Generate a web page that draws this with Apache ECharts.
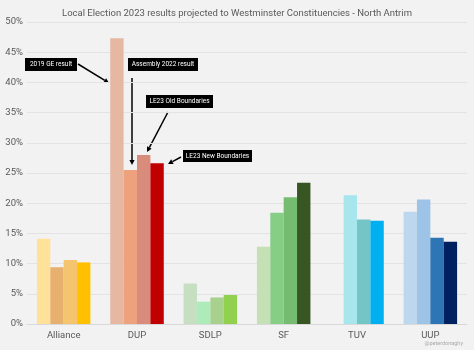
<!DOCTYPE html>
<html><head><meta charset="utf-8">
<script src="https://cdn.jsdelivr.net/npm/echarts@6/dist/echarts.min.js"></script>
<style>html,body{margin:0;padding:0;background:#f2f2f2}#c{width:474px;height:350px}</style>
</head><body><div id="c"></div>
<script>
const categories = ['Alliance','DUP','SDLP','SF','TUV','UUP'];
const seriesNames = ['2019 GE result','Assembly 2022 result','LE23 Old Boundaries','LE23 New Boundaries'];
const ge2019   = [14.1, 47.3, 6.7, 12.8, null, 18.6];
const ae2022   = [9.4, 25.5, 3.7, 18.4, 21.3, 20.6];
const le23Old  = [10.6, 28.0, 4.4, 21.0, 17.3, 14.3];
const le23New  = [10.2, 26.6, 4.8, 23.4, 17.1, 13.6];
const yTicks = [0,5,10,15,20,25,30,35,40,45,50];
const colors = [
  ['#FFE199','#E6B8A2','#C5DFC0','#C5E0B4',null,'#BDD7EE'],
  ['#E8B06E','#EDA17D','#AEEBBB','#86CE86','#A6E6EC','#9DC3E6'],
  ['#F5C46E','#DA8C7C','#A9D18E','#76BC70','#74C6C6','#2E75B6'],
  ['#FFC000','#C00000','#92D050','#375623','#00B0F0','#002060']
];
const allData = [ge2019, ae2022, le23Old, le23New];
const chart = echarts.init(document.getElementById('c'));
const font = 'Roboto, "Liberation Sans", sans-serif';
function box(x,y,w,h,text){
  return {type:'group',children:[
    {type:'rect',shape:{x:x,y:y,width:w,height:h},style:{fill:'#000'}},
    {type:'text',style:{x:x+w/2,y:y+h/2,text:text,fill:'#fff',font:'6.5px '+font,align:'center',verticalAlign:'middle'}}
  ]};
}
function arrow(x1,y1,x2,y2){
  const a=Math.atan2(y2-y1,x2-x1), L=5, W=2.6;
  const bx=x2-L*Math.cos(a), by=y2-L*Math.sin(a);
  const px=-Math.sin(a)*W, py=Math.cos(a)*W;
  return {type:'group',children:[
    {type:'line',shape:{x1:x1,y1:y1,x2:bx,y2:by},style:{stroke:'#000',lineWidth:1.5}},
    {type:'polygon',shape:{points:[[x2,y2],[bx+px,by+py],[bx-px,by-py]]},style:{fill:'#000'}}
  ]};
}
chart.setOption({
  backgroundColor:'#f2f2f2',
  animation:false,
  title:{text:'Local Election 2023 results projected to Westminster Constituencies - North Antrim',left:'center',top:4,
    textStyle:{fontSize:9.5,fontWeight:'normal',color:'#595959',fontFamily:font}},
  grid:{left:27,right:7,top:22,bottom:26},
  xAxis:{type:'category',data:categories,axisTick:{show:false},
    axisLine:{lineStyle:{color:'#d9d9d9'}},
    axisLabel:{color:'#595959',fontSize:9.5,fontFamily:font,margin:7}},
  yAxis:{type:'value',min:0,max:50,interval:5,
    axisLabel:{formatter:v=>v+'%',color:'#595959',fontSize:9.5,fontFamily:font,margin:4},
    splitLine:{lineStyle:{color:'#e3e3e3'}}},
  series: seriesNames.map((n,si)=>({
    name:n,type:'bar',barGap:'0%',barCategoryGap:'27%',
    data: allData[si].map((v,ci)=> v===null?'-':{value:v,itemStyle:{color:colors[si][ci]}})
  })),
  graphic:[
    box(25,58,52,13,'2019 GE result'),
    arrow(78,64,109,83),
    box(128,58,70,13,'Assembly 2022 result'),
    arrow(132,78,132,165),
    box(146,95,67,13,'LE23 Old Boundaries'),
    arrow(168,112,147,152),
    box(183,150,69,12,'LE23 New Boundaries'),
    arrow(181,157,168,164),
    {type:'text',style:{x:463,y:344,text:'@peterdonaghy',fill:'#aaaaaa',font:'5.5px '+font,align:'right',verticalAlign:'middle'}}
  ]
});
</script></body></html>
